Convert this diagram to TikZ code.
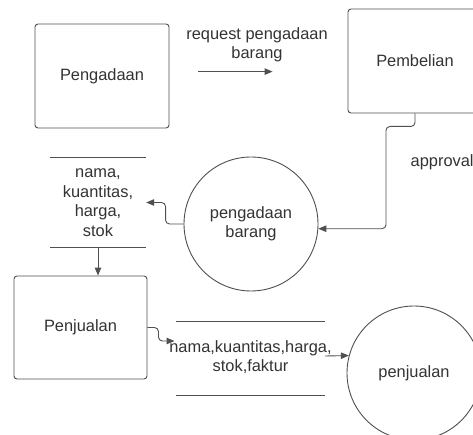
\documentclass[tikz,border=0pt]{standalone}
\usepackage{fontspec}
\setmainfont{Liberation Sans}
\usetikzlibrary{arrows.meta, positioning, calc}
\definecolor{ink}{HTML}{333333}
\definecolor{edge}{HTML}{505050}
\newcommand{\dfdfont}{\fontsize{16.4}{19.5}\selectfont}

\begin{document}
\begin{tikzpicture}[x=1pt, y=-1pt,
  >={Triangle[length=8pt, width=6.5pt]},
  entity/.style={draw=edge, rounded corners=3pt, line width=0.9pt,
    minimum width=134pt, minimum height=104pt, font=\dfdfont, text=ink},
  process/.style={draw=edge, circle, line width=0.9pt, minimum size=134pt,
    inner sep=0pt, align=center, font=\dfdfont, text=ink},
  store/.style={align=center, font=\dfdfont, text=ink, inner sep=0pt},
  lbl/.style={align=center, font=\dfdfont, text=ink, inner sep=0pt},
  flow/.style={->, draw=edge, line width=0.9pt, rounded corners=4pt}
]
\fill[white] (0,0) rectangle (473,435);
\clip (0,0) rectangle (473,435);

\node[entity] (pengadaan) at (102,76) {Pengadaan};
\node[entity] (pembelian) at (415,61) {Pembelian};
\node[process] (pb) at (251,224) {pengadaan\\barang};
\node[store, minimum width=96pt, minimum height=89pt] (s1) at (98,202.5) {nama,\\kuantitas,\\harga,\\stok};
\node[entity, minimum width=133pt, minimum height=103pt] (pj) at (80.5,327.5) {Penjualan};
\node[store] (s2) at (250.5,357) {nama,kuantitas,harga,\\stok,faktur};
\node[process] (pjc) at (414,373) {penjualan};

\node[lbl] (req) at (257,45) {request pengadaan\\barang};
\node[lbl, anchor=west] (apr) at (410.5,162) {approval};

% data stores
\draw[edge, line width=0.9pt] (s1.north west) -- (s1.north east) (s1.south west) -- (s1.south east);
\draw[edge, line width=0.9pt] ($(s2.center)+(-74.5,-36)$) -- ++(149,0) ($(s2.center)+(-74.5,38)$) -- ++(149,0);

% flows
\draw[flow, shorten <=29pt, shorten >=75pt] (pengadaan.east |- req.south) ++(0,9) coordinate (r1) (r1) -- (r1 -| pembelian.west);
\draw[flow] (pembelian.south) -- ++(0,13) -- ++(-29,0) |- (pb.-4);
\draw[flow] (pb.west) -- ++(-18,0) |- (s1.east);
\draw[flow] (s1.south) -- (s1.south |- pj.north);
\draw[flow] (pj.east) -- ++(11,0) |- ($(s2.center)+(-76,-16)$);
\draw[flow, rounded corners=0pt] ($(s2.center)+(74.5,-1)$) coordinate (r2) (r2) -- (pjc.165);
\end{tikzpicture}
\end{document}
